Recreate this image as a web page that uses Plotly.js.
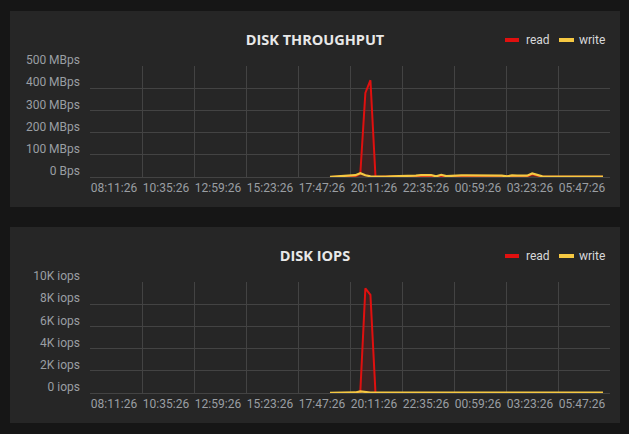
<!DOCTYPE html>
<html>
<head>
<meta charset="utf-8">
<script src="https://cdn.plot.ly/plotly-3.0.1.min.js"></script>
<style>
  html, body { margin: 0; padding: 0; background: #161616; width: 629px; height: 434px; overflow: hidden; }
  .panel { position: absolute; left: 10px; width: 610px; height: 196px; background: #262626; }
  #p1 { top: 11px; }
  #p2 { top: 227px; }
</style>
</head>
<body>
<div id="p1" class="panel"></div>
<div id="p2" class="panel"></div>
<script>
// ---------------- DATA ----------------
const seriesNames = ["read", "write"];
// sample times (HH:MM), day 1 until midnight, then day 2
const timesDay1 = ["16:52","17:06","17:20","17:34","17:48","18:02","18:16","18:30","18:44","18:58",
  "19:12","19:26","19:40","19:54","20:08","20:22","20:36","20:50","21:04","21:18","21:32","21:46",
  "22:00","22:14","22:28","22:42","22:56","23:10","23:24","23:38","23:52"];
const timesDay2 = ["00:06","00:20","00:34","00:48","01:02","01:16","01:30","01:44","01:58","02:12",
  "02:26","02:40","02:54","03:08","03:22","03:36","03:50","04:04","04:18","04:32","04:46","05:00",
  "05:14","05:28","05:40"];

// Disk throughput in MBps
const readMBps = [0,0,1,1,2,3,15,379,436,2,
  1,1,1,1,2,2,3,3,4,5,5,2,6,2,
  3,3,3,3,3,4,4,3,3,3,3,1,4,3,3,3,12,5,1,
  1,1,1,1,1,1,1,1,1,1,1,1];
const writeMBps = [1,2,4,5,6,8,17,8,3,2,
  3,2,3,3,4,5,6,6,8,10,9,3,10,4,
  6,7,7,7,7,8,8,7,7,6,6,3,7,6,6,6,16,9,3,
  2,2,2,2,2,2,2,2,2,2,2,2];

// Disk IOPS
const readIops = [0,0,10,10,20,30,120,9430,8840,20,
  10,10,10,10,10,10,10,10,10,10,10,10,10,10,
  10,10,10,10,10,10,10,10,10,10,10,10,10,10,10,10,40,10,10,
  10,10,10,10,10,10,10,10,10,10,10,10];
const writeIops = [20,20,30,30,40,50,150,70,40,30,
  30,30,30,30,30,30,30,30,30,30,30,30,30,30,
  30,30,30,30,30,30,30,30,30,30,30,30,30,30,30,30,90,40,30,
  30,30,30,30,30,30,30,30,30,30,30,30];

// Axis ticks
const xTickTimes = ["2024-03-01 08:11:26","2024-03-01 10:35:26","2024-03-01 12:59:26","2024-03-01 15:23:26",
  "2024-03-01 17:47:26","2024-03-01 20:11:26","2024-03-01 22:35:26","2024-03-02 00:59:26",
  "2024-03-02 03:23:26","2024-03-02 05:47:26"];
const xTickLabels = ["08:11:26","10:35:26","12:59:26","15:23:26","17:47:26","20:11:26","22:35:26","00:59:26","03:23:26","05:47:26"];
const xRange = ["2024-03-01 05:47:26","2024-03-02 05:47:26"];

const tpTickVals = [0,100,200,300,400,500];
const tpTickText = ["0 Bps","100 MBps","200 MBps","300 MBps","400 MBps","500 MBps"];
const ioTickVals = [0,2000,4000,6000,8000,10000];
const ioTickText = ["0 iops","2K iops","4K iops","6K iops","8K iops","10K iops"];

// ---------------- BUILD ----------------
const times = timesDay1.map(t => "2024-03-01 " + t + ":00").concat(timesDay2.map(t => "2024-03-02 " + t + ":00"));

const W = 610, H = 196;
const M = {l: 80, r: 10, t: 55, b: 30};
const PW = W - M.l - M.r, PH = H - M.t - M.b;
const px = x => (x - M.l) / PW;
const py = y => 1 - (y - M.t) / PH;

const RED = "#e0100f", YEL = "#f5c842";
const GRID = "#434343", TXT = "#9a9ea3";

function makePanel(div, title, readVals, writeVals, tickVals, tickText, yMax) {
  const traces = [
    {x: times, y: readVals, name: seriesNames[0], type: "scatter", mode: "lines",
     line: {color: RED, width: 2}, fill: "tozeroy", fillcolor: "rgba(224,16,15,0.13)", showlegend: false},
    {x: times, y: writeVals, name: seriesNames[1], type: "scatter", mode: "lines",
     line: {color: YEL, width: 2.2}, fill: "tozeroy", fillcolor: "rgba(245,200,66,0.10)", showlegend: false}
  ];
  const legendFont = {family: "Roboto", size: 12, color: "#d8d9da"};
  const layout = {
    width: W, height: H,
    margin: M,
    paper_bgcolor: "rgba(0,0,0,0)", plot_bgcolor: "rgba(0,0,0,0)",
    showlegend: false,
    title: {text: title, x: 0.5, xref: "container", xanchor: "center", y: 1 - 29 / H, yref: "container", yanchor: "middle",
            font: {family: "Open Sans", size: 14.5, color: "#e8e8e8", weight: 700}},
    xaxis: {type: "date", range: xRange, tickvals: xTickTimes, ticktext: xTickLabels,
            showgrid: true, gridcolor: GRID, gridwidth: 1, zeroline: false, showline: false, ticks: "",
            tickfont: {family: "Roboto", size: 12, color: TXT}, ticklabelshift: -28, ticklabelstandoff: 2,
            fixedrange: true},
    yaxis: {range: [0, yMax], tickvals: tickVals, ticktext: tickText,
            showgrid: true, gridcolor: GRID, gridwidth: 1, zeroline: true, zerolinecolor: GRID, zerolinewidth: 1,
            showline: false, ticks: "", tickfont: {family: "Roboto", size: 12, color: TXT},
            ticklabelshift: -6, ticklabelstandoff: 9, fixedrange: true},
    shapes: [
      {type: "line", xref: "paper", yref: "paper", x0: px(495), x1: px(509), y0: py(29), y1: py(29),
       line: {color: RED, width: 4}},
      {type: "line", xref: "paper", yref: "paper", x0: px(549), x1: px(564), y0: py(29), y1: py(29),
       line: {color: YEL, width: 4}}
    ],
    annotations: [
      {text: seriesNames[0], xref: "paper", yref: "paper", x: px(514), y: py(29), xanchor: "left", yanchor: "middle",
       showarrow: false, font: legendFont},
      {text: seriesNames[1], xref: "paper", yref: "paper", x: px(567), y: py(29), xanchor: "left", yanchor: "middle",
       showarrow: false, font: legendFont}
    ]
  };
  Plotly.newPlot(div, traces, layout, {staticPlot: true, displayModeBar: false});
}

makePanel("p1", "DISK THROUGHPUT", readMBps, writeMBps, tpTickVals, tpTickText, 500);
makePanel("p2", "DISK IOPS", readIops, writeIops, ioTickVals, ioTickText, 10000);
</script>
</body>
</html>
